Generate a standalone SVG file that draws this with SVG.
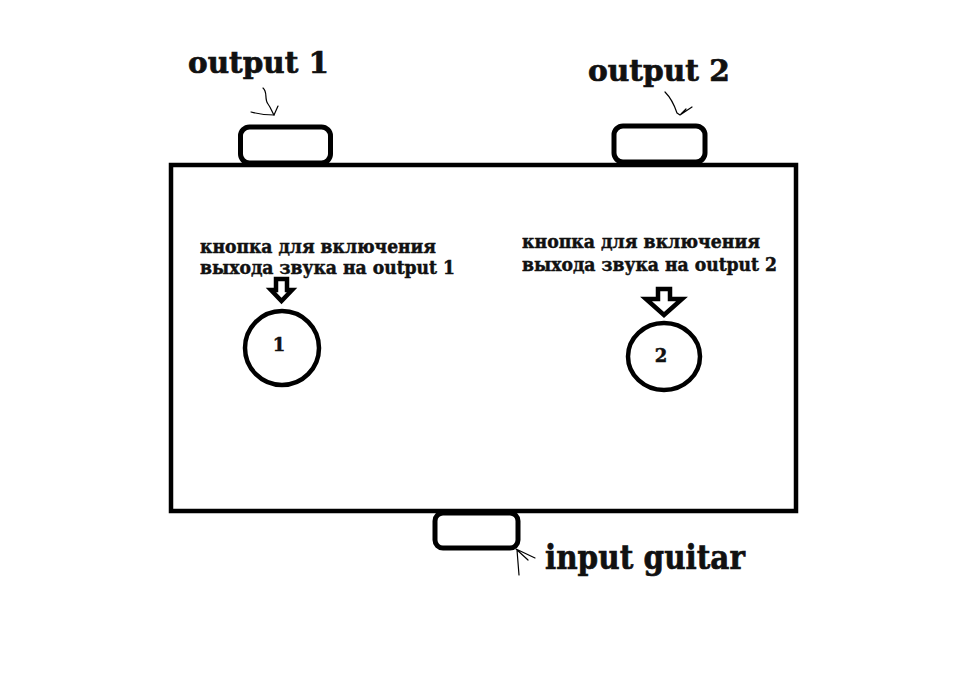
<svg xmlns="http://www.w3.org/2000/svg" width="974" height="676" viewBox="0 0 974 676">
<style>
.box{fill:#fff;stroke:#000;stroke-width:4.5}
.jack{fill:#fff;stroke:#000;stroke-width:5}
.thin{fill:none;stroke:#000;stroke-width:1.2;stroke-linecap:round;stroke-linejoin:round}
.big{font-family:"DejaVu Serif","Liberation Serif",serif;font-weight:bold;fill:#111;stroke:#111;stroke-width:0.7}
.small{font-family:"DejaVu Serif","Liberation Serif",serif;font-weight:bold;font-size:18px;fill:#111;stroke:#111;stroke-width:0.5}
</style>
<rect width="974" height="676" fill="#fff"/>
<g id="body">
<rect class="box" x="171" y="165" width="625" height="346"/>
</g>
<g id="output1">
<rect class="jack" x="240.5" y="127" width="90" height="36" rx="9"/>
<text class="big" x="188" y="73" font-size="30" textLength="141" lengthAdjust="spacingAndGlyphs">output 1</text>
</g>
<g id="output2">
<rect class="jack" x="614" y="126" width="91" height="36" rx="9"/>
<text class="big" x="588" y="81" font-size="30" textLength="142" lengthAdjust="spacingAndGlyphs">output 2</text>
</g>
<g id="input">
<rect class="jack" x="435" y="513" width="83" height="35" rx="8"/>
<text class="big" x="545" y="569" font-size="33" textLength="200" lengthAdjust="spacingAndGlyphs">input guitar</text>
</g>
<g id="button1">
<circle class="box" cx="282" cy="348" r="37"/>
<text class="small" x="279" y="351" font-size="16" text-anchor="middle">1</text>
<text class="small" x="200" y="253" textLength="236" lengthAdjust="spacingAndGlyphs">кнопка для включения</text>
<text class="small" x="200" y="274" textLength="255" lengthAdjust="spacingAndGlyphs">выхода звука на output 1</text>
</g>
<g id="button2">
<ellipse class="box" cx="664" cy="356.5" rx="36" ry="33.5"/>
<text class="small" x="661" y="362" font-size="17" text-anchor="middle">2</text>
<text class="small" x="522" y="248" textLength="238" lengthAdjust="spacingAndGlyphs">кнопка для включения</text>
<text class="small" x="522" y="271" textLength="255" lengthAdjust="spacingAndGlyphs">выхода звука на output 2</text>
</g>
<g id="connectors">
<polygon class="box" stroke-width="4" points="276,279 287,279 287,290 292,290 281.5,301 271,290 276,290"/>
<polygon class="box" stroke-width="4" points="658,289 670,289 670,299 682,299 664,315 646,299 658,299"/>
<path class="thin" d="M263,88 C268,92 264,99 268,104 C271,108 272,112 274,115"/>
<path class="thin" d="M251,112 Q262,115 274,115 L278,106"/>
<path class="thin" d="M665,92 C671,98 674,104 677,113 L680,115 L692,107 M681,114 L686,109"/>
<path class="thin" d="M516,549 L535,558 M516,549 L528,560 M517,550 L519,575"/>
</g>
</svg>
